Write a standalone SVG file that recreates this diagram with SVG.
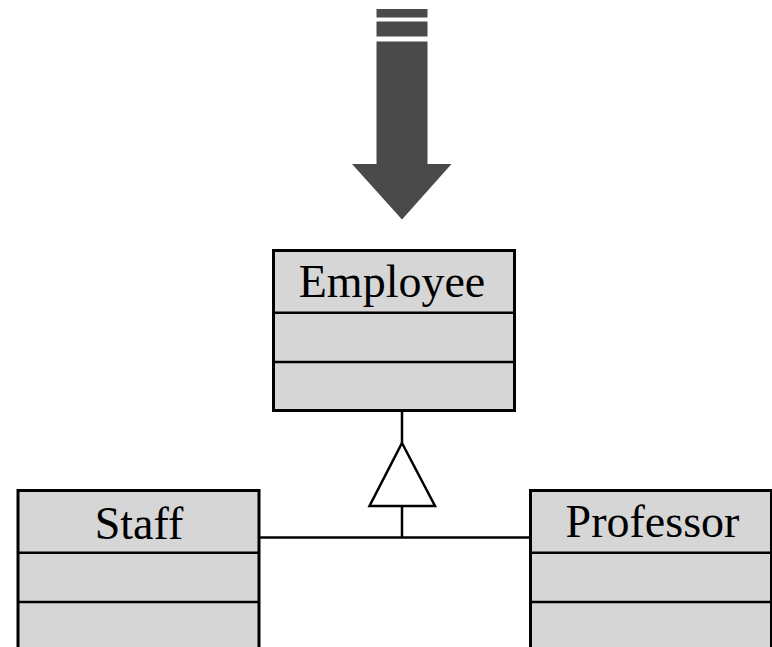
<svg xmlns="http://www.w3.org/2000/svg" width="772" height="647" viewBox="0 0 772 647">
<style>
.box{fill:#d6d6d6;stroke:#000;stroke-width:3}
.sep{stroke:#000;stroke-width:2.5}
.lbl{font-family:"Liberation Serif","Times New Roman",serif;font-size:46px;fill:#000;text-anchor:middle}
.conn{fill:none;stroke:#000;stroke-width:2.5}
</style>
<rect width="772" height="647" fill="#fff"/>
<g id="big-arrow" fill="#4a4a4a">
<rect x="376.5" y="9" width="51" height="8.5"/>
<rect x="376.5" y="21.5" width="51" height="15"/>
<polygon points="376.5,41.5 427.5,41.5 427.5,164 451.5,164 402,219.5 352,164 376.5,164"/>
</g>
<g id="connectors">
<line class="conn" x1="402" y1="411" x2="402" y2="443"/>
<polygon class="conn" points="402,443 435,506 369.5,506" fill="#fff"/>
<line class="conn" x1="402" y1="506" x2="402" y2="537.5"/>
<line class="conn" x1="259" y1="537.5" x2="530" y2="537.5"/>
</g>
<g id="employee">
<rect class="box" x="273.5" y="250.5" width="241" height="160"/>
<line class="sep" x1="273.5" y1="312.7" x2="514.5" y2="312.7"/>
<line class="sep" x1="273.5" y1="362" x2="514.5" y2="362"/>
<text class="lbl" x="392" y="297">Employee</text>
</g>
<g id="staff">
<rect class="box" x="18" y="490.5" width="241" height="170"/>
<line class="sep" x1="18" y1="552.7" x2="259" y2="552.7"/>
<line class="sep" x1="18" y1="602" x2="259" y2="602"/>
<text class="lbl" x="139" y="539">Staff</text>
</g>
<g id="professor">
<rect class="box" x="530.5" y="490.5" width="241" height="170"/>
<line class="sep" x1="530.5" y1="552.7" x2="771.5" y2="552.7"/>
<line class="sep" x1="530.5" y1="602" x2="771.5" y2="602"/>
<text class="lbl" x="652.5" y="537">Professor</text>
</g>
</svg>
